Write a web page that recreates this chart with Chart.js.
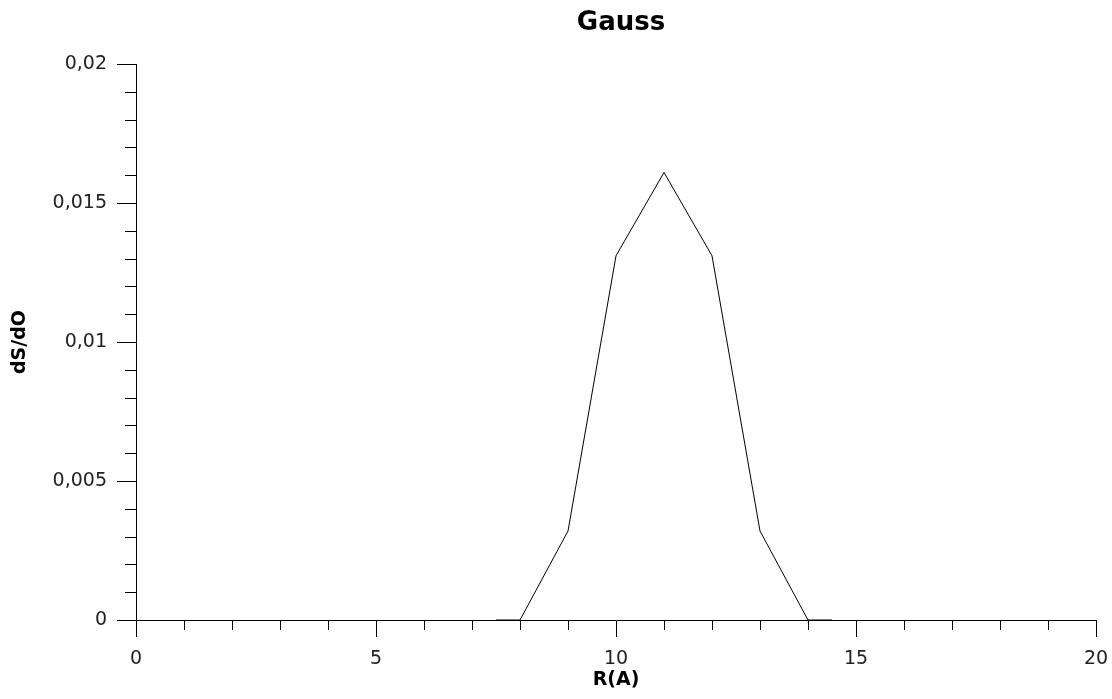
<!DOCTYPE html>
<html>
<head>
<meta charset="utf-8">
<script src="https://cdn.jsdelivr.net/npm/chart.js@4.4.0/dist/chart.umd.min.js"></script>
<style>
  html, body { margin: 0; padding: 0; background: #fff; }
  #wrap { width: 1112px; height: 699px; }
</style>
</head>
<body>
<div id="wrap"><canvas id="chart" width="1112" height="699"></canvas></div>
<script>
var ctx = document.getElementById('chart').getContext('2d')

// data
const rValues = [7.5, 8, 9, 10, 11, 12, 13, 14, 14.5]
const dsdo = [0, 0, 0.0032, 0.0131, 0.0161, 0.0131, 0.0032, 0, 0]
const xTickLabels = ['0', '5', '10', '15', '20']
const yTickLabels = ['0', '0,005', '0,01', '0,015', '0,02']
const chartTitle = 'Gauss'

const points = rValues.map((r, i) => ({ x: r, y: dsdo[i] }))

const tickFont = { family: 'DejaVu Sans', size: 19 }
const axisTitleFont = { family: 'DejaVu Sans', size: 19, weight: 'bold' }

// minor ticks (every step) and the title centred over the plot area
const extras = {
  id: 'extras',
  afterDraw(chart) {
    const c = chart.ctx
    const xs = chart.scales.x
    const ys = chart.scales.y
    c.save()
    c.strokeStyle = '#000'
    c.lineWidth = 1
    c.beginPath()
    for (let v = 0; v <= 20; v++) {
      if (v % 5 === 0) continue
      const px = Math.round(xs.getPixelForValue(v)) + 0.5
      c.moveTo(px, ys.bottom)
      c.lineTo(px, ys.bottom + 10)
    }
    for (let k = 0; k <= 20; k++) {
      if (k % 5 === 0) continue
      const py = Math.round(ys.getPixelForValue(k / 1000)) + 0.5
      c.moveTo(xs.left, py)
      c.lineTo(xs.left - 11, py)
    }
    c.stroke()

    c.fillStyle = '#000'
    c.font = 'bold 26px "DejaVu Sans"'
    c.textAlign = 'center'
    c.textBaseline = 'middle'
    c.fillText(chartTitle, (chart.chartArea.left + chart.chartArea.right) / 2 + 5, 23)
    c.restore()
  },
}

const chart = new Chart(ctx, {
  type: 'scatter',
  data: {
    datasets: [
      {
        label: chartTitle,
        data: points,
        showLine: true,
        borderColor: '#000',
        borderWidth: 1,
        pointRadius: 0,
        tension: 0,
      },
    ],
  },
  options: {
    responsive: false,
    animation: false,
    layout: { padding: { left: 0, right: 16, top: 64, bottom: 0 } },
    plugins: {
      legend: { display: false },
      tooltip: { enabled: false },
      title: { display: false },
    },
    scales: {
      x: {
        type: 'linear',
        min: 0,
        max: 20,
        afterFit: (scale) => {
          scale.height = 79
          scale.paddingLeft = 0
          scale.paddingRight = 0
        },
        border: { display: true, color: '#000', width: 1 },
        grid: {
          drawOnChartArea: false,
          tickLength: 17,
          tickColor: (c) => (c.tick && c.tick.value % 5 === 0 ? '#000' : 'rgba(0,0,0,0)'),
        },
        ticks: {
          stepSize: 1,
          autoSkip: false,
          maxRotation: 0,
          color: '#222',
          font: tickFont,
          padding: 11,
          callback: (v) => (v % 5 === 0 ? xTickLabels[v / 5] : ''),
        },
        title: {
          display: true,
          text: 'R(A)',
          color: '#000',
          font: axisTitleFont,
          padding: { top: 0, bottom: 8 },
        },
      },
      y: {
        type: 'linear',
        min: 0,
        max: 0.02,
        afterFit: (scale) => {
          scale.width = 136
          scale.paddingTop = 0
          scale.paddingBottom = 0
        },
        border: { display: true, color: '#000', width: 1 },
        grid: {
          drawOnChartArea: false,
          tickLength: 19,
          tickColor: (c) => (c.tick && Math.round(c.tick.value * 1000) % 5 === 0 ? '#000' : 'rgba(0,0,0,0)'),
        },
        ticks: {
          stepSize: 0.001,
          autoSkip: false,
          color: '#222',
          font: tickFont,
          padding: 10,
          callback: (v) => {
            const k = Math.round(v * 1000)
            return k % 5 === 0 ? yTickLabels[k / 5] : ''
          },
        },
        title: {
          display: true,
          text: 'dS/dO',
          color: '#000',
          font: axisTitleFont,
          padding: { top: 9, bottom: 0 },
        },
      },
    },
  },
  plugins: [extras],
})
</script>
</body>
</html>
